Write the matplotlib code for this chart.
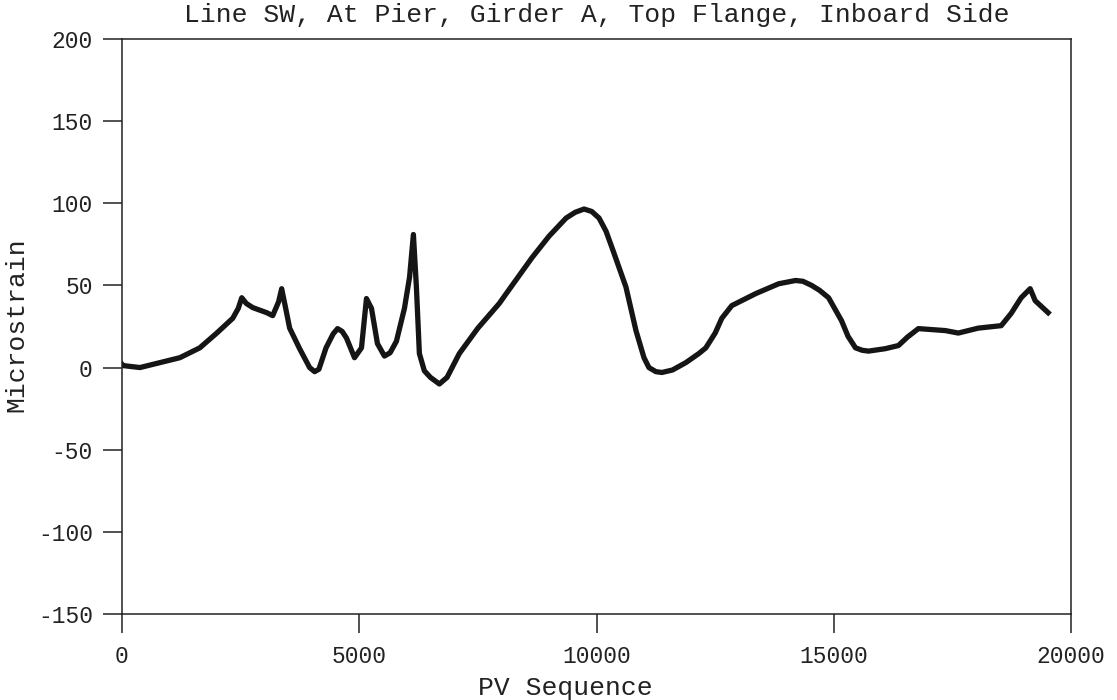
import matplotlib
matplotlib.use("Agg")
import matplotlib.pyplot as plt

# strain trace (PV sequence, microstrain)
pv_seq = [0, 21, 379, 800, 1220, 1640, 1998, 2334, 2450, 2524, 2620, 2755,
          3050, 3176, 3300, 3365, 3450, 3533, 3743, 3954, 4060, 4150, 4300,
          4450, 4543, 4640, 4730, 4900, 5047, 5152, 5258, 5383, 5531, 5650,
          5783, 5952, 6060, 6141, 6204, 6267, 6372, 6500, 6688, 6850, 7108,
          7500, 7950, 8097, 8643, 9000, 9359, 9550, 9737, 9900, 10053, 10200,
          10326, 10620, 10831, 11000, 11104, 11250, 11377, 11600, 11882,
          12155, 12303, 12500, 12640, 12850, 13354, 13838, 14195, 14350,
          14532, 14700, 14890, 15163, 15300, 15457, 15600, 15731, 16088,
          16362, 16550, 16782, 17350, 17624, 18044, 18528, 18738, 18948,
          19138, 19243, 19516]
microstrain = [2, 1.2, 0, 3, 6, 12, 21, 30, 36, 42.5, 39, 36.5,
               33.4, 31.6, 40, 48, 36, 24, 11.5, 0, -2.5, -1, 12,
               20.5, 23.7, 22, 18, 6, 12, 42, 36, 14.6, 7, 9,
               16, 36, 55, 81, 49, 8.5, -2, -6, -10, -6, 8.5,
               24, 39, 45, 67, 80, 91, 94.5, 96.5, 95, 91, 83,
               73, 49, 22.5, 6, 0, -2.5, -3, -1.5, 3,
               8.5, 12, 21, 30, 37.7, 45, 51, 53, 52.5,
               50, 47, 42.5, 28.5, 19, 12, 10.5, 10, 11.5,
               13.4, 18.5, 23.7, 22.5, 21, 24, 25.5, 33, 42.5,
               48, 40.7, 33.4]

x_ticks = [0, 5000, 10000, 15000, 20000]
y_ticks = [-150, -100, -50, 0, 50, 100, 150, 200]

plt.rcParams['font.family'] = ['Liberation Mono', 'DejaVu Sans Mono']
plt.rcParams['axes.unicode_minus'] = False

fig = plt.figure(figsize=(11.17, 7.0), dpi=100)
ax = fig.add_axes([0.1092, 0.1229, 0.8497, 0.8214])

ax.plot(pv_seq, microstrain, color='#151515', lw=3.8, solid_joinstyle='round')

ax.set_xlim(0, 20000)
ax.set_ylim(-150, 200)
ax.set_xticks(x_ticks)
ax.set_yticks(y_ticks)
ax.tick_params(axis='both', direction='out', length=14, width=1.1,
               color='#222222', labelsize=16.5, labelcolor='#222222')
ax.tick_params(axis='x', pad=8)
ax.tick_params(axis='y', pad=7)
for s in ax.spines.values():
    s.set_linewidth(1.1)
    s.set_color('#222222')

ax.set_title('Line SW, At Pier, Girder A, Top Flange, Inboard Side',
             fontsize=19, color='#222222', pad=12)
ax.set_xlabel('PV Sequence', fontsize=19, color='#222222')
ax.xaxis.set_label_coords(0.467, -0.108)
ax.set_ylabel('Microstrain', fontsize=19, color='#222222')
ax.yaxis.set_label_coords(-0.099, 0.503)

fig.savefig('out.png', dpi=100)
